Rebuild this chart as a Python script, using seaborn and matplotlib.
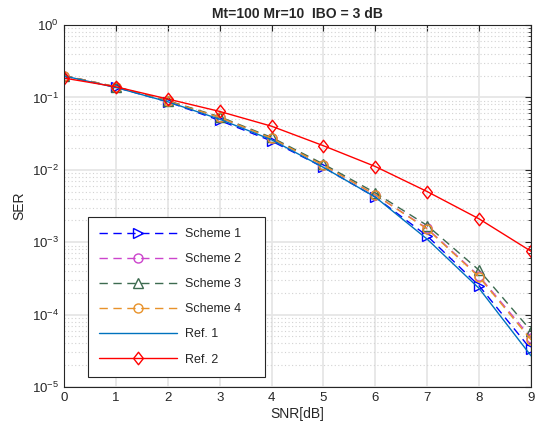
import matplotlib
matplotlib.use("Agg")
import matplotlib.pyplot as plt
import seaborn as sns
import numpy as np
from matplotlib.ticker import LogLocator, NullFormatter
from matplotlib.path import Path

snr = [0, 1, 2, 3, 4, 5, 6, 7, 8, 9]
scheme1 = [0.198, 0.138, 0.087, 0.048, 0.025, 0.0108, 0.0042, 0.00122, 0.00025, 3.3e-5]
scheme2 = [0.200, 0.140, 0.089, 0.053, 0.0272, 0.0116, 0.0045, 0.00155, 0.00034, 4.8e-5]
scheme3 = [0.200, 0.140, 0.090, 0.054, 0.0280, 0.0120, 0.0048, 0.00170, 0.00041, 6.0e-5]
scheme4 = [0.200, 0.140, 0.089, 0.053, 0.0272, 0.0115, 0.0045, 0.00152, 0.00033, 4.5e-5]
ref1 = [0.198, 0.137, 0.087, 0.050, 0.026, 0.0108, 0.0042, 0.0011, 0.00023, 2.7e-5]
ref2 = [0.185, 0.140, 0.095, 0.064, 0.040, 0.0215, 0.0111, 0.0050, 0.0021, 0.00075]
labels = ["Scheme 1", "Scheme 2", "Scheme 3", "Scheme 4", "Ref. 1", "Ref. 2"]

sns.set_style("white")
plt.rcParams['font.family'] = ['Liberation Sans', 'DejaVu Sans']

fig = plt.figure(figsize=(5.37, 4.3), dpi=100)
ax = fig.add_axes([64/537, 1-387/430, (531-64)/537, (387-25)/430])

diamond = Path([(0, 1), (0.78, 0), (0, -1), (-0.78, 0), (0, 1)],
               [Path.MOVETO, Path.LINETO, Path.LINETO, Path.LINETO, Path.CLOSEPOLY])

series = [scheme1, scheme2, scheme3, scheme4, ref1, ref2]
colors = ["#0000FF", "#CC44CC", "#3D6B50", "#E8922A", "#0072BD", "#FF0000"]
styles = [(0, (6, 4)), (0, (6, 4)), (0, (6, 4)), (0, (6, 4)), "-", "-"]
markers = [">", "o", "^", "o", None, diamond]
msizes = [6.5, 6.5, 6.5, 6.5, 0, 9]

for vals, lab, c, ls, m, ms in zip(series, labels, colors, styles, markers, msizes):
    sns.lineplot(x=snr, y=vals, ax=ax, label=lab, color=c, linestyle=ls,
                 marker=m if m is not None else "", markersize=ms, markerfacecolor="none",
                 markeredgecolor=c, markeredgewidth=1.0, linewidth=1.0)

ax.set_yscale("log")
ax.set_ylim(1e-5, 1)
ax.set_xlim(0, 9)
ax.set_xticks(snr)
ax.yaxis.set_major_locator(LogLocator(base=10, numticks=10))
ax.yaxis.set_minor_locator(LogLocator(base=10, subs=np.arange(2, 10), numticks=100))
ax.yaxis.set_minor_formatter(NullFormatter())

ax.grid(True, which="major", color="#E6E6E6", linewidth=1.3, linestyle="-")
ax.grid(True, which="minor", axis="y", color="#D2D2D2", linewidth=0.8, linestyle=(0, (1, 2.2)))
ax.set_axisbelow(True)

for s in ax.spines.values():
    s.set_color("#262626")
    s.set_linewidth(0.8)
ax.tick_params(which="both", direction="in", top=True, right=True, colors="#262626",
               labelsize=9.5, labelcolor="#262626")
ax.tick_params(which="major", length=4)
ax.tick_params(which="minor", length=2)

ax.set_xlabel("SNR[dB]", fontsize=10, color="#262626", labelpad=2)
ax.set_ylabel("SER", fontsize=10, color="#262626", labelpad=4)
ax.set_title("Mt=100 Mr=10  IBO = 3 dB", fontsize=10, fontweight="bold", pad=5)

leg = ax.legend(loc="lower left", bbox_to_anchor=(0.051, 0.028, 0.379, 0.456), mode="expand",
                borderaxespad=0, fontsize=9, handlelength=6.2, labelspacing=1.05,
                frameon=True, fancybox=False, edgecolor="#262626", framealpha=1,
                borderpad=0.9, handletextpad=0.7)
leg.get_frame().set_linewidth(0.8)

fig.savefig("out.png", dpi=100)
